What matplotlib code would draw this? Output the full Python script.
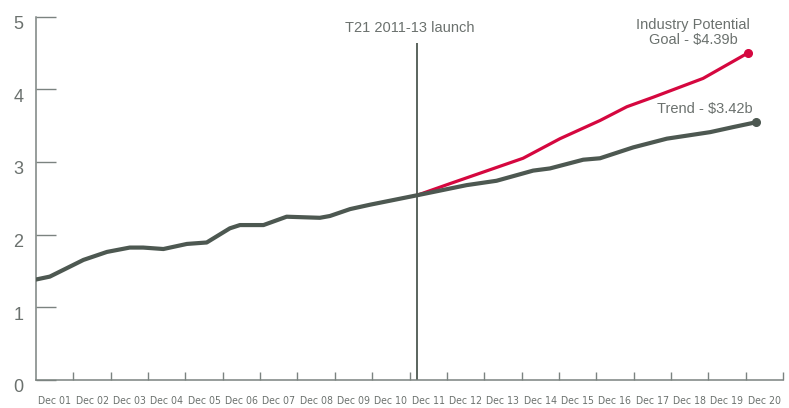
import numpy as np
import matplotlib
matplotlib.use('Agg')
from matplotlib import pyplot as plt
from matplotlib import transforms
from matplotlib import font_manager

# years since Dec 2000 -> revenue ($b)
trend_x = [0.0, 0.37, 1.27, 1.90, 2.51, 2.87, 3.41, 4.04, 4.57, 5.19, 5.46, 6.09,
           6.71, 7.60, 7.87, 8.41, 8.94, 10.20, 11.53, 12.33, 13.31, 13.76, 14.65,
           15.10, 15.99, 16.89, 18.05, 18.67, 19.27]
trend_y = [1.38, 1.42, 1.65, 1.76, 1.82, 1.82, 1.80, 1.87, 1.89, 2.085, 2.13, 2.13,
           2.245, 2.23, 2.255, 2.35, 2.41, 2.54, 2.68, 2.74, 2.88, 2.91, 3.03,
           3.05, 3.20, 3.32, 3.41, 3.48, 3.545]
goal_x = [10.20, 11.08, 13.04, 14.03, 15.10, 15.82, 16.52, 17.86, 19.06]
goal_y = [2.54, 2.70, 3.05, 3.32, 3.57, 3.76, 3.89, 4.15, 4.50]
launch_x = 10.2
launch_top = 4.64

xlabels = ['Dec %02d' % i for i in range(1, 21)]

grey = '#4d5851'
red = '#d5073f'
axis_c = '#7b8380'
text_c = '#6b716e'

# look for an upright narrow face for the month labels
narrow = None
for f in font_manager.fontManager.ttflist:
    if f.style != 'normal' or f.weight not in (400, 'normal', 'regular'):
        continue
    if 'Narrow' in f.name or 'ondensed' in str(f.stretch) or 'Condensed' in f.fname:
        narrow = f.fname
        break
if narrow:
    xfont = font_manager.FontProperties(fname=narrow, size=7.6)
else:
    xfont = font_manager.FontProperties(family='Liberation Sans', size=7.0)

plt.rcParams['font.family'] = ['Liberation Sans', 'DejaVu Sans']

fig = plt.figure(figsize=(7.89, 4.08), dpi=100)
ax = fig.add_axes([36/789, 28.3/408, 747/789, 363/408])

ax.plot(goal_x, goal_y, color=red, lw=2.3, solid_capstyle='round',
        solid_joinstyle='round', zorder=3)
ax.plot(goal_x[-1], goal_y[-1], 'o', color=red, ms=5.5, zorder=4)
ax.plot(trend_x, trend_y, color=grey, lw=3, solid_capstyle='round',
        solid_joinstyle='round', zorder=3)
ax.plot(trend_x[-1], trend_y[-1], 'o', color=grey, ms=5.5, zorder=4)
ax.vlines(launch_x, 0, launch_top, color=grey, lw=1.3, zorder=2)

ax.text(launch_x - 0.2, 4.84, 'T21 2011-13 launch', ha='center', va='center',
        fontsize=10.5, color=text_c)
ax.text(17.6, 4.78, 'Industry Potential\nGoal - $4.39b', ha='center', va='center',
        fontsize=10.5, color=text_c, linespacing=1.15)
ax.text(17.9, 3.73, 'Trend - $3.42b', ha='center', va='center',
        fontsize=10.5, color=text_c)

ax.set_xlim(0, 20)
ax.set_ylim(0, 5)
for s in ['top', 'right']:
    ax.spines[s].set_visible(False)
for s in ['left', 'bottom']:
    ax.spines[s].set_color(axis_c)
    ax.spines[s].set_linewidth(1.1)

ax.set_yticks(range(6))
ax.tick_params(axis='y', direction='in', length=14.5, width=1, color=axis_c,
               labelsize=13, labelcolor=text_c, pad=9)
off = transforms.ScaledTranslation(0, -6/100, fig.dpi_scale_trans)
for lab in ax.get_yticklabels():
    lab.set_transform(lab.get_transform() + off)

ax.set_xticks(range(1, 21))
ax.set_xticklabels([])
ax.tick_params(axis='x', which='major', direction='in', length=6, width=1, color=axis_c)
ax.set_xticks(np.arange(20) + 0.5, minor=True)
ax.set_xticklabels(xlabels, minor=True, color=text_c, fontproperties=xfont)
ax.tick_params(axis='x', which='minor', length=0, pad=12)

fig.savefig('out.png', dpi=100)
